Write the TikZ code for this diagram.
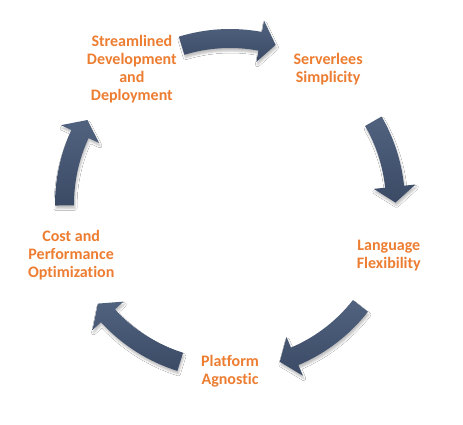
\documentclass[tikz,border=0pt]{standalone}
\usepackage{fontspec}
\setmainfont{Carlito}[Ligatures={NoCommon}]
\usepackage{xcolor}
\usetikzlibrary{shadows.blur}
\definecolor{steporange}{HTML}{ED7D31}
\definecolor{arrowtop}{HTML}{51627F}
\definecolor{arrowbot}{HTML}{3B4B66}
\tikzset{
  steplabel/.style={text=steporange,font=\bfseries\fontsize{16}{18}\selectfont,align=center,inner sep=0},
  cyclearrow/.style={top color=arrowtop,bottom color=arrowbot,
    blur shadow={shadow xshift=1pt,shadow yshift=-3pt,shadow blur radius=2pt,shadow opacity=25}}
}
% curved block arrow from tail angle #1 clockwise to tip angle #2
\newcommand{\cyclearc}[2]{%
  \path[cyclearrow] (#1:175) arc[start angle=#1,end angle=#2+5.5,radius=175]
    -- (#2+5.5:186.5) -- (#2:165.5) -- (#2+5.5:144.5) -- (#2+5.5:156)
    arc[start angle=#2+5.5,end angle=#1,radius=156] -- cycle;}

\begin{document}
\begin{tikzpicture}[x=1pt,y=1pt]
\fill[white] (0,0) rectangle (463,424);
\useasboundingbox (0,0) rectangle (463,424);
\begin{scope}[shift={(230,220)}]
\cyclearc{107}{74}
\cyclearc{30}{0.5}
\cyclearc{-38}{-72.5}
\cyclearc{-107.5}{-143}
\cyclearc{180.5}{149.5}
\node[steplabel] (deploy) at (126:167) {Streamlined\\Development\\and\\Deployment};
\node[steplabel] (serverless) at (54:167) {Serverlees\\Simplicity};
\node[steplabel] (language) at (-18:167) {Language\\Flexibility};
\node[steplabel] (platform) at (-90:167) {Platform\\Agnostic};
\node[steplabel] (cost) at (198:167) {Cost and\\Performance\\Optimization};
\end{scope}
\end{tikzpicture}
\end{document}
